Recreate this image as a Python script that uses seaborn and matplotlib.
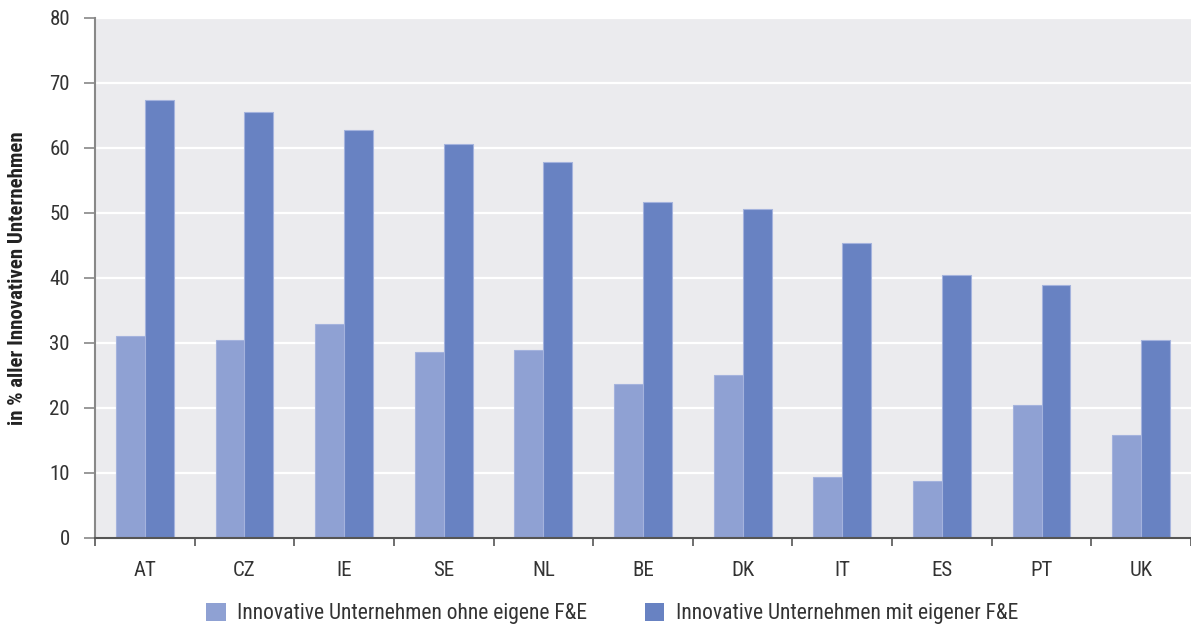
import numpy as np
import pandas as pd
import matplotlib
matplotlib.use("Agg")
import matplotlib.pyplot as plt
import seaborn as sns
from matplotlib.patches import Patch
from matplotlib import font_manager as fm

countries = ["AT", "CZ", "IE", "SE", "NL", "BE", "DK", "IT", "ES", "PT", "UK"]
ohne_fue = [31.1, 30.4, 32.9, 28.6, 28.9, 23.6, 25.0, 9.4, 8.7, 20.4, 15.8]
mit_fue = [67.3, 65.5, 62.7, 60.6, 57.8, 51.7, 50.6, 45.3, 40.4, 38.9, 30.4]
series_names = ["Innovative Unternehmen ohne eigene F&E",
                "Innovative Unternehmen mit eigener F&E"]
y_ticks = [0, 10, 20, 30, 40, 50, 60, 70, 80]
y_label = "in % aller Innovativen Unternehmen"

colors = ["#8FA1D3", "#6882C2"]

df = pd.DataFrame({
    "Land": countries * 2,
    "Wert": ohne_fue + mit_fue,
    "Reihe": [series_names[0]] * len(countries) + [series_names[1]] * len(countries),
})

sns.set_theme(style="darkgrid")

# pick a condensed font family
entries = fm.fontManager.ttflist
preferred = ["Liberation Sans Narrow", "Roboto Condensed", "Noto Sans Condensed",
             "Open Sans Condensed", "Arial Narrow"]
names = {f.name for f in entries}
chosen_family, chosen_stretch = None, "normal"
for p in preferred:
    if p in names:
        chosen_family = p
        break
if chosen_family is None:
    cond = [f for f in entries if f.name == "DejaVu Sans" and f.stretch == "condensed"]
    if cond:
        chosen_family, chosen_stretch = "DejaVu Sans", "condensed"
if chosen_family is None:
    for f in entries:
        if "Narrow" in f.name or "Condensed" in f.name:
            chosen_family = f.name
            break
if chosen_family is None:
    chosen_family = "Roboto"

plt.rcParams["font.family"] = [chosen_family, "DejaVu Sans"]
plt.rcParams["font.stretch"] = chosen_stretch

fs = 15

fig = plt.figure(figsize=(11.91, 6.26), dpi=100)
ax = fig.add_axes([95 / 1191, 88.3 / 626, 1096 / 1191, 520 / 626])
ax.set_facecolor("#EBEBEE")

sns.barplot(data=df, x="Land", y="Wert", hue="Reihe", palette=colors,
            width=0.58, gap=0, saturation=1, ax=ax, legend=False,
            edgecolor="#A4B3DD", linewidth=0.8)

ax.set_xlim(-0.5, len(countries) - 0.5)
ax.set_ylim(0, 80)
ax.set_yticks(y_ticks)
ax.set_yticklabels([str(t) for t in y_ticks], fontsize=fs, color="#333333")
ax.grid(axis="y", color="white", linewidth=1.6)
ax.grid(axis="x", visible=False)
ax.set_axisbelow(True)

ax.tick_params(axis="y", length=8, width=1.2, color="#888888", pad=10, left=True)
ax.tick_params(axis="x", which="major", length=0, pad=17, labelsize=fs,
               labelcolor="#333333")
ax.set_xticks(np.arange(-0.5, len(countries), 1.0), minor=True)
ax.tick_params(axis="x", which="minor", length=6, width=1.2, color="#555555",
               bottom=True, direction="out")

for s in ["top", "right"]:
    ax.spines[s].set_visible(False)
ax.spines["left"].set_visible(True)
ax.spines["left"].set_color("#888888")
ax.spines["left"].set_linewidth(1.5)
ax.spines["bottom"].set_visible(True)
ax.spines["bottom"].set_color("#555555")
ax.spines["bottom"].set_linewidth(1.5)

ax.set_xlabel("")
ax.set_ylabel(y_label, fontsize=fs, fontweight="bold", color="#222222")
ax.yaxis.set_label_coords(-68 / 1096, 0.5)

handles = [Patch(facecolor=c, edgecolor="none") for c in colors]
fig.legend(handles, series_names, loc="center", bbox_to_anchor=(0.514, 0.02),
           ncol=2, frameon=False, fontsize=15.5, handlelength=0.9,
           handleheight=0.9, handletextpad=0.52, columnspacing=2.7,
           labelcolor="#333333")

fig.savefig("out.png", dpi=100)
